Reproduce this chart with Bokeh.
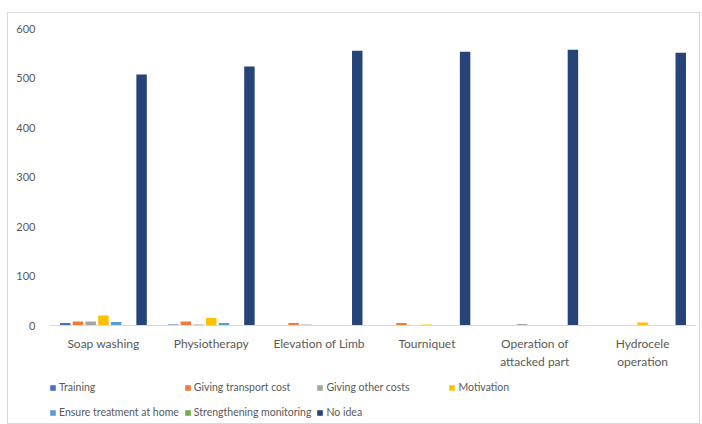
from bokeh.plotting import figure
from bokeh.layouts import column
from bokeh.models import ColumnDataSource, FixedTicker, Legend, LegendItem, Range1d
from bokeh.transform import dodge
from bokeh.embed import file_html
from bokeh.resources import INLINE

categories = ["Soap washing", "Physiotherapy", "Elevation of Limb", "Tourniquet",
              "Operation of\nattacked part", "Hydrocele\noperation"]
series_names = ["Training", "Giving transport cost", "Giving other costs", "Motivation",
                "Ensure treatment at home", "Strengthening monitoring", "No idea"]
training = [5, 2, 0, 0, 0, 0]
transport = [8, 8, 5, 5, 0, 0]
other_costs = [8, 2, 2, 0, 3, 0]
motivation = [20, 15, 0, 2, 0, 6]
ensure_home = [7, 5, 0, 0, 0, 0]
strengthening = [0, 0, 0, 0, 0, 0]
no_idea = [507, 523, 555, 553, 557, 551]
y_ticks = [0, 100, 200, 300, 400, 500, 600]

colors = ["#4472C4", "#ED7D31", "#A5A5A5", "#FFC000", "#5B9BD5", "#70AD47", "#264478"]
series = [training, transport, other_costs, motivation, ensure_home, strengthening, no_idea]
keys = ["s%d" % i for i in range(7)]

data = {"cat": categories}
for k, s in zip(keys, series):
    data[k] = s
src = ColumnDataSource(data)

FONT = "Lato"
W = 691
p = figure(x_range=categories, y_range=(0, 600), width=W, height=359,
           output_backend="svg", toolbar_location=None,
           min_border_left=41, min_border_right=3, min_border_top=15, min_border_bottom=47)

pitch = 0.118
for i, (k, c) in enumerate(zip(keys, colors)):
    p.vbar(x=dodge("cat", (i - 3) * pitch, range=p.x_range), top=k, width=0.097,
           source=src, fill_color=c, line_color=None)

p.xgrid.visible = False
p.ygrid.visible = False
p.outline_line_color = None

p.yaxis.ticker = FixedTicker(ticks=y_ticks)
p.yaxis.axis_line_color = None
p.yaxis.major_tick_line_color = None
p.yaxis.minor_tick_line_color = None
p.yaxis.major_label_text_font = FONT
p.yaxis.major_label_text_font_size = "11px"
p.yaxis.major_label_text_color = "#595959"
p.yaxis.major_label_standoff = 8

p.xaxis.axis_line_color = "#d9d9d9"
p.xaxis.major_tick_line_color = None
p.xaxis.minor_tick_line_color = None
p.xaxis.major_label_text_font = FONT
p.xaxis.major_label_text_font_size = "12px"
p.xaxis.major_label_text_color = "#595959"
p.xaxis.major_label_standoff = 4

# legend figure
lf = figure(width=W, height=51, output_backend="svg", toolbar_location=None,
            x_axis_type=None, y_axis_type=None, min_border=0,
            min_border_left=0, min_border_right=0, min_border_top=0, min_border_bottom=0,
            x_range=Range1d(10, 11), y_range=Range1d(10, 11))
lf.outline_line_color = None
items = []
for c, name in zip(colors, series_names):
    r = lf.vbar(x=[0], top=[0], width=0.5, fill_color=c, line_color=None)
    items.append(LegendItem(label=name, renderers=[r]))

legend = Legend(items=items, ncols=4, orientation="horizontal", location=(0, 1))
legend.label_text_font = FONT
legend.label_text_font_size = "10.5px"
legend.label_text_color = "#595959"
legend.glyph_width = 7
legend.glyph_height = 7
legend.label_standoff = 3
legend.label_width = 117
legend.label_height = 20
legend.spacing = 5
legend.padding = 0
legend.margin = 0
legend.border_line_color = None
legend.background_fill_alpha = 0
lf.add_layout(legend)

layout = column(p, lf, spacing=0,
                styles={"border": "1px solid #d9d9d9", "margin-left": "7px", "margin-top": "12px"})

open("out.html", "w").write(file_html(layout, INLINE))
